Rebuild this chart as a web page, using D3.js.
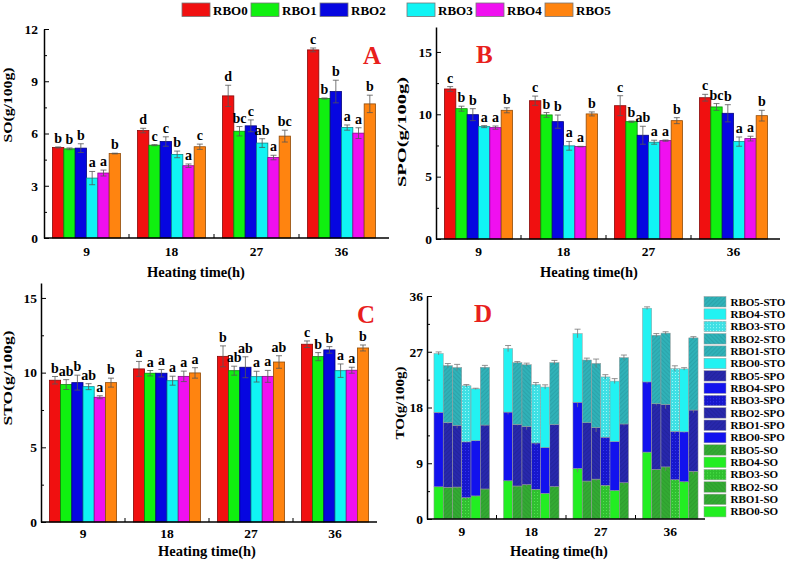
<!DOCTYPE html>
<html>
<head>
<meta charset="utf-8">
<script src="https://cdn.jsdelivr.net/npm/d3@7"></script>
<style>
body { margin: 0; background: #fff; }
text { font-family: "Liberation Serif", "Times New Roman", serif; font-weight: bold; }
</style>
</head>
<body>
<svg id="chart"></svg>
<script>
// categories
var times = ["9", "18", "27", "36"];
var oils = ["RBO0", "RBO1", "RBO2", "RBO3", "RBO4", "RBO5"];
var oilColors = ["#f01010", "#10f010", "#0606e0", "#10f4f4", "#f010f0", "#ff8410"];

// SO (g/100g), rows = oil, cols = heating time
var soMean = [
  [5.20, 6.17, 8.16, 10.80],
  [5.12, 5.33, 6.13, 8.01],
  [5.16, 5.54, 6.44, 8.41],
  [3.44, 4.80, 5.45, 6.34],
  [3.73, 4.15, 4.62, 6.02],
  [4.85, 5.24, 5.85, 7.70]
];
var soErr = [
  [0.03, 0.13, 0.61, 0.11],
  [0.05, 0.03, 0.27, 0.03],
  [0.25, 0.27, 0.34, 0.65],
  [0.38, 0.19, 0.25, 0.15],
  [0.17, 0.10, 0.13, 0.31],
  [0.02, 0.15, 0.34, 0.50]
];
var soLetters = [
  ["b", "d", "d", "c"],
  ["b", "c", "bc", "b"],
  ["b", "c", "c", "b"],
  ["a", "b", "ab", "a"],
  ["a", "a", "a", "a"],
  ["b", "c", "bc", "b"]
];

// SPO (g/100g)
var spoMean = [
  [12.03, 11.09, 10.69, 11.33],
  [10.45, 9.95, 9.41, 10.59],
  [9.97, 9.41, 8.32, 10.08],
  [9.01, 7.47, 7.76, 7.81],
  [8.93, 7.41, 7.89, 8.05],
  [10.32, 10.03, 9.49, 9.89]
];
var spoErr = [
  [0.19, 0.37, 0.80, 0.27],
  [0.20, 0.19, 0.05, 0.27],
  [0.48, 0.53, 0.72, 0.69],
  [0.08, 0.35, 0.16, 0.37],
  [0.13, 0.02, 0.05, 0.19],
  [0.20, 0.16, 0.24, 0.43]
];
var spoLetters = [
  ["c", "c", "c", "c"],
  ["b", "b", "b", "bc"],
  ["b", "b", "ab", "b"],
  ["a", "a", "a", "a"],
  ["a", "a", "a", "a"],
  ["b", "b", "b", "b"]
];

// STO (g/100g)
var stoMean = [
  [9.49, 10.25, 11.09, 11.90],
  [9.20, 9.96, 10.13, 11.07],
  [9.33, 9.96, 10.36, 11.52],
  [9.06, 9.46, 9.73, 10.13],
  [8.35, 9.75, 9.75, 10.16],
  [9.33, 9.98, 10.71, 11.65]
];
var stoErr = [
  [0.25, 0.50, 0.70, 0.22],
  [0.33, 0.18, 0.30, 0.27],
  [0.50, 0.25, 0.70, 0.22],
  [0.20, 0.30, 0.36, 0.45],
  [0.10, 0.35, 0.40, 0.20],
  [0.30, 0.35, 0.42, 0.20]
];
var stoLetters = [
  ["b", "a", "b", "c"],
  ["ab", "a", "ab", "b"],
  ["b", "a", "ab", "b"],
  ["ab", "a", "a", "a"],
  ["a", "a", "a", "a"],
  ["b", "a", "ab", "b"]
];

var components = ["SO", "SPO", "STO"];

var width = 788;
var height = 561;
var svg = d3.select("#chart")
      .attr("width", width)
      .attr("height", height);
svg.append("rect").attr("width", width).attr("height", height).attr("fill", "#fff");
var defs = svg.append("defs");

// shared axis drawing
var drawAxes = function(g, p, x0, y) {
      var major = d3.range(0, p.yMax + 0.001, p.major);
      var minor = d3.range(p.major / 2, p.yMax, p.major);
      var yAxis = g.append("g").attr("transform", "translate(" + p.left + ",0)")
            .call(d3.axisLeft(y).tickValues(major).tickSizeInner(-5).tickSizeOuter(0).tickPadding(p.yPad))
      yAxis.selectAll("text").style("font-size", "13.5px").style("fill", "#000");
      yAxis.select(".domain").attr("stroke-width", 1.5);
      g.append("g").attr("transform", "translate(" + p.left + ",0)")
            .call(d3.axisLeft(y).tickValues(minor).tickSize(-3).tickFormat(""))
            .select(".domain").remove();

      var xAxis = g.append("g").attr("transform", "translate(0," + y(0) + ")")
            .call(d3.axisBottom(x0).tickSize(0).tickPadding(p.xPad))
      xAxis.select(".domain").remove();
      xAxis.selectAll("text").style("font-size", "13.5px").style("fill", "#000");
      g.append("line")
            .attr("x1", p.left).attr("x2", p.axisEnd)
            .attr("y1", y(0)).attr("y2", y(0))
            .attr("stroke", "#000").attr("stroke-width", 1.5);
      // small ticks between the groups
      g.selectAll("line.sep").data(times.slice(1)).enter().append("line")
            .attr("x1", d => x0(d) - x0.step() * x0.paddingInner() / 2)
            .attr("x2", d => x0(d) - x0.step() * x0.paddingInner() / 2)
            .attr("y1", y(0)).attr("y2", y(0) - 4)
            .attr("stroke", "#000").attr("stroke-width", 1);

      g.append("text")
            .attr("transform", "translate(" + p.yLabelX + "," + p.yLabelY + ") rotate(-90)")
            .attr("text-anchor", "middle")
            .attr("textLength", p.yLabelLen)
            .attr("lengthAdjust", "spacingAndGlyphs")
            .style("font-size", "13px")
            .text(p.yLabel);
      g.append("text")
            .attr("x", p.xLabelX).attr("y", p.xLabelY)
            .attr("text-anchor", "middle")
            .style("font-size", "14.5px")
            .text("Heating time(h)");
      g.append("text")
            .attr("x", p.titleX).attr("y", p.titleY)
            .style("font-size", "25px")
            .style("fill", "#e8201c")
            .text(p.title);
}

// grouped bar panels A, B, C
var drawBarPanel = function(p) {
      var g = svg.append("g");
      var x0 = d3.scaleBand().domain(times).range([p.left, p.right]).paddingInner(0.2).paddingOuter(0.1);
      var x1 = d3.scaleBand().domain(oils).range([0, x0.bandwidth()]);
      var y = d3.scaleLinear().domain([0, p.yMax]).range([p.bottom, p.top]);

      var rows = [];
      oils.forEach(function(o, i) {
            times.forEach(function(t, j) {
                  rows.push({oil: o, i: i, time: t, v: p.mean[i][j], e: p.err[i][j], l: p.letters[i][j]});
            });
      });
      var cx = d => x0(d.time) + x1(d.oil) + x1.bandwidth() / 2;

      g.selectAll("rect.bar").data(rows).enter().append("rect")
            .attr("x", d => x0(d.time) + x1(d.oil))
            .attr("width", x1.bandwidth())
            .attr("y", d => y(d.v))
            .attr("height", d => y(0) - y(d.v))
            .style("fill", d => oilColors[d.i])
            .style("stroke", d => d3.color(oilColors[d.i]).darker(1.6))
            .style("stroke-width", 0.8);

      var eb = g.selectAll("g.err").data(rows).enter().append("g")
            .attr("stroke", "#555").attr("stroke-width", 0.8);
      eb.append("line").attr("x1", cx).attr("x2", cx).attr("y1", d => y(d.v - d.e)).attr("y2", d => y(d.v + d.e));
      eb.append("line").attr("x1", d => cx(d) - 3).attr("x2", d => cx(d) + 3).attr("y1", d => y(d.v + d.e)).attr("y2", d => y(d.v + d.e));
      eb.append("line").attr("x1", d => cx(d) - 3).attr("x2", d => cx(d) + 3).attr("y1", d => y(d.v - d.e)).attr("y2", d => y(d.v - d.e));

      g.selectAll("text.sig").data(rows).enter().append("text")
            .attr("x", cx)
            .attr("y", d => y(d.v + d.e) - 4)
            .attr("text-anchor", "middle")
            .style("font-size", "14px")
            .text(d => d.l);

      drawAxes(g, p, x0, y);
}

drawBarPanel({mean: soMean, err: soErr, letters: soLetters, left: 44, right: 384, axisEnd: 389,
      top: 29, bottom: 238, yMax: 12, major: 3, yPad: 6, xPad: 8,
      yLabel: "SO(g/100g)", yLabelX: 12, yLabelY: 105, yLabelLen: 75,
      xLabelX: 196, xLabelY: 277, title: "A", titleX: 363, titleY: 64});
drawBarPanel({mean: spoMean, err: spoErr, letters: spoLetters, left: 436, right: 776, axisEnd: 780,
      top: 27, bottom: 239, yMax: 17, major: 5, yPad: 4, xPad: 7,
      yLabel: "SPO(g/100g)", yLabelX: 406, yLabelY: 132, yLabelLen: 110,
      xLabelX: 589, xLabelY: 277, title: "B", titleX: 476, titleY: 63});
drawBarPanel({mean: stoMean, err: stoErr, letters: stoLetters, left: 41, right: 377, axisEnd: 377,
      top: 283, bottom: 522, yMax: 16, major: 5, yPad: 4, xPad: 6,
      yLabel: "STO(g/100g)", yLabelX: 12, yLabelY: 378, yLabelLen: 95,
      xLabelX: 207, xLabelY: 556, title: "C", titleX: 357, titleY: 323});

// ---- panel D: stacked totals ----
var palette = {
      SO: {bright: "#22ee22", mid: "#33aa33", line: "#2e9a2e", dotBg: "#30c030", dot: "#4ee84e"},
      SPO: {bright: "#1212ee", mid: "#2828ac", line: "#22229a", dotBg: "#1717cc", dot: "#3434f0"},
      STO: {bright: "#22f2f2", mid: "#30b2b8", line: "#2aa0a6", dotBg: "#3ee0e4", dot: "#9af8fa"}
};
var oilStyles = ["solid", "hatch", "hatch2", "dots", "solid", "hatch"];

var makePattern = function(id, bg, fg, kind) {
      var pt = defs.append("pattern").attr("id", id)
            .attr("patternUnits", "userSpaceOnUse")
            .attr("width", 3).attr("height", 3);
      pt.append("rect").attr("width", 3).attr("height", 3).attr("fill", bg);
      if (kind == "dots") {
            pt.append("rect").attr("width", 1).attr("height", 1).attr("fill", fg);
      } else {
            pt.attr("patternTransform", "rotate(" + (kind == "hatch" ? 45 : -45) + ")");
            pt.append("line").attr("x1", 0.5).attr("x2", 0.5).attr("y1", 0).attr("y2", 3)
                  .attr("stroke", fg).attr("stroke-width", 0.8);
      }
}
components.forEach(function(c) {
      var pal = palette[c];
      makePattern("p-" + c + "-hatch", pal.mid, pal.line, "hatch");
      makePattern("p-" + c + "-hatch2", pal.mid, pal.line, "hatch2");
      makePattern("p-" + c + "-dots", pal.dotBg, pal.dot, "dots");
});
var fillFor = function(c, i) {
      var s = oilStyles[i];
      return s == "solid" ? palette[c].bright : "url(#p-" + c + "-" + s + ")";
}

var dErrs = {SO: soErr, SPO: spoErr, STO: stoErr};
var table = [];
times.forEach(function(t, j) {
      oils.forEach(function(o, i) {
            table.push({time: t, oil: o, i: i, j: j, SO: soMean[i][j], SPO: spoMean[i][j], STO: stoMean[i][j]});
      });
});
var stacked = d3.stack().keys(components)(table);

var pD = {left: 427, right: 705, axisEnd: 705, top: 296, bottom: 519, yMax: 36, major: 9, yPad: 4, xPad: 7,
      yLabel: "TO(g/100g)", yLabelX: 404, yLabelY: 403, yLabelLen: 73,
      xLabelX: 559, xLabelY: 556, title: "D", titleX: 474, titleY: 322};
var gD = svg.append("g");
var dx0 = d3.scaleBand().domain(times).range([pD.left, pD.right]).paddingInner(0.2).paddingOuter(0.1);
var dx1 = d3.scaleBand().domain(oils).range([0, dx0.bandwidth()]);
var dy = d3.scaleLinear().domain([0, pD.yMax]).range([pD.bottom, pD.top]);

stacked.forEach(function(series) {
      var c = series.key;
      gD.selectAll("rect.s" + c).data(series).enter().append("rect")
            .attr("x", d => dx0(d.data.time) + dx1(d.data.oil))
            .attr("width", dx1.bandwidth())
            .attr("y", d => dy(d[1]))
            .attr("height", d => dy(d[0]) - dy(d[1]))
            .attr("fill", d => fillFor(c, d.data.i))
            .attr("stroke", "#9a9a9a").attr("stroke-width", 0.5);
      var eg = gD.selectAll("g.e" + c).data(series).enter().append("g")
            .attr("stroke", "#777").attr("stroke-width", 0.8);
      var ex = d => dx0(d.data.time) + dx1(d.data.oil) + dx1.bandwidth() / 2;
      var er = d => dErrs[c][d.data.i][d.data.j];
      eg.append("line").attr("x1", ex).attr("x2", ex).attr("y1", d => dy(d[1] - er(d))).attr("y2", d => dy(d[1] + er(d)));
      eg.append("line").attr("x1", d => ex(d) - 3).attr("x2", d => ex(d) + 3).attr("y1", d => dy(d[1] + er(d))).attr("y2", d => dy(d[1] + er(d)));
});
drawAxes(gD, pD, dx0, dy);

// legend for D
var dLegend = [];
components.slice().reverse().forEach(function(c) {
      oils.slice().reverse().forEach(function(o) {
            dLegend.push({c: c, i: oils.indexOf(o), label: o + "-" + c});
      });
});
var dl = svg.append("g").selectAll("g").data(dLegend).enter().append("g")
      .attr("transform", (d, k) => "translate(704," + (296.5 + k * 12.35) + ")");
dl.append("rect").attr("width", 22).attr("height", 10.5)
      .attr("fill", d => fillFor(d.c, d.i))
      .attr("stroke", "#a0a0a0").attr("stroke-width", 0.5);
dl.append("text").attr("x", 26.5).attr("y", 9)
      .style("font-size", "11px")
      .text(d => d.label);

// top legend for A, B, C
var tl = svg.append("g").selectAll("g").data(oils).enter().append("g")
      .attr("transform", (d, i) => "translate(" + (i < 3 ? 182 + i * 69 : 407 + (i - 3) * 69) + ",3)");
tl.append("rect").attr("width", 28).attr("height", 13.5)
      .attr("fill", (d, i) => oilColors[i])
      .attr("stroke", "#777").attr("stroke-width", 0.8);
tl.append("text").attr("x", 31).attr("y", 12)
      .style("font-size", "13px")
      .text(d => d);
</script>
</body>
</html>
